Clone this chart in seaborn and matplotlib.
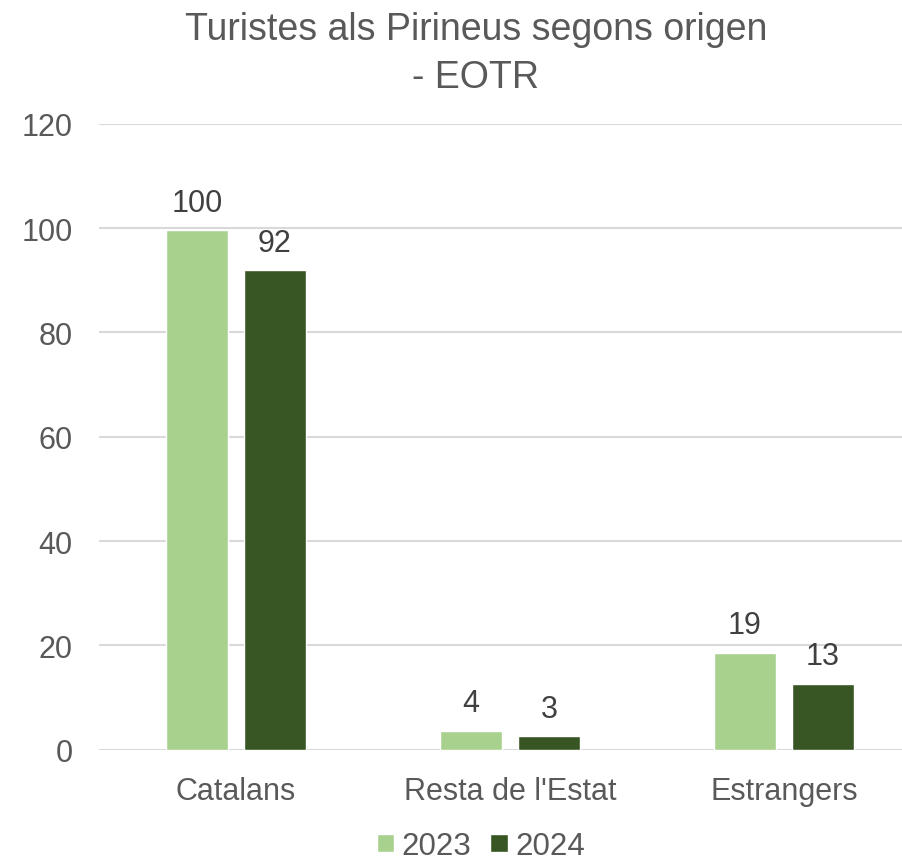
import seaborn as sns
import matplotlib.pyplot as plt
import pandas as pd

categories = ["Catalans", "Resta de l'Estat", "Estrangers"]
years = ["2023", "2024"]
values_2023 = [99.6, 3.6, 18.6]
values_2024 = [91.9, 2.6, 12.6]
y_ticks = [0, 20, 40, 60, 80, 100, 120]

df = pd.DataFrame({
    "Origen": categories * 2,
    "Any": [years[0]] * 3 + [years[1]] * 3,
    "Turistes": values_2023 + values_2024,
})

sns.set_theme(style="white")
plt.rcParams["font.family"] = ["Liberation Sans", "DejaVu Sans"]

text_col = "#595959"
palette = {"2023": "#A9D18E", "2024": "#375623"}

fig = plt.figure(figsize=(9.02, 8.62), dpi=100)
ax = fig.add_axes([99 / 902, 0.1291, 822 / 902, 0.7262])

sns.barplot(data=df, x="Origen", y="Turistes", hue="Any", palette=palette,
            width=0.569, gap=0.206, saturation=1, ax=ax, zorder=3)

for cont in ax.containers:
    ax.bar_label(cont, labels=[f"{round(b.get_height())}" for b in cont],
                 padding=9, fontsize=22, color="#404040")

ax.set_xlim(-0.5, 2.5)
ax.set_ylim(0, 120)
ax.set_yticks(y_ticks)
ax.yaxis.grid(True, color="#D9D9D9", linewidth=1.5, zorder=0)
ax.set_axisbelow(True)
for s in ax.spines.values():
    s.set_visible(False)
ax.tick_params(axis="y", length=0, pad=19, labelsize=22, labelcolor=text_col)
ax.tick_params(axis="x", length=0, pad=19, labelsize=22, labelcolor=text_col)
ax.set_xlabel("")
ax.set_ylabel("")

ax.legend_.remove()
handles, labels = ax.get_legend_handles_labels()
fig.legend(handles, labels, loc="center", bbox_to_anchor=(481 / 902, 1 - 847 / 862),
           ncol=2, frameon=False, fontsize=22.5, labelcolor=text_col,
           handlelength=0.55, handleheight=0.55, handletextpad=0.25, columnspacing=0.6,
           borderpad=0.1)

fig.text(476 / 902, 1 - 12 / 862, "Turistes als Pirineus segons origen\n- EOTR",
         ha="center", va="top", fontsize=27, color=text_col, linespacing=1.42)

fig.savefig("out.png", dpi=100)
